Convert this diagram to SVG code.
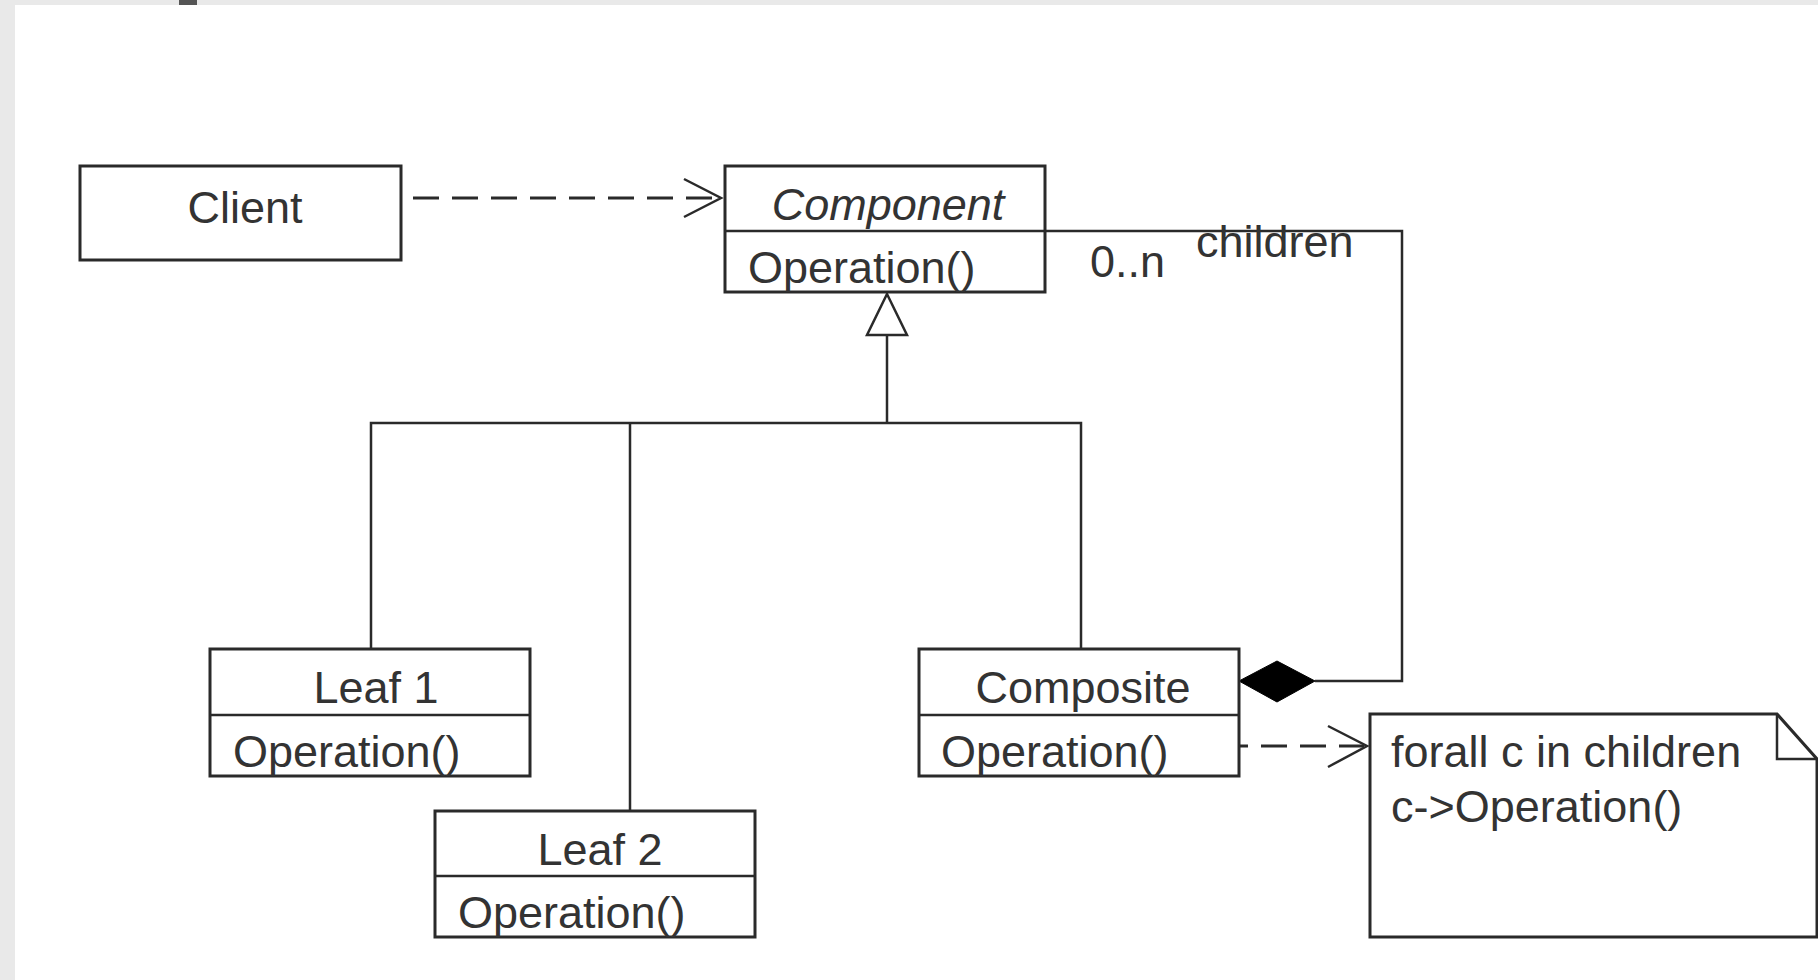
<svg xmlns="http://www.w3.org/2000/svg" width="1818" height="980" viewBox="0 0 1818 980">
<style>
.box{fill:#fff;stroke:#2a2a2a;stroke-width:3}
.ln{fill:none;stroke:#2a2a2a;stroke-width:2.5}
.dash{fill:none;stroke:#2a2a2a;stroke-width:3;stroke-dasharray:26 13}
.t{font-family:"Liberation Sans",Arial,sans-serif;font-size:45px;fill:#333}
.c{text-anchor:middle}
</style>
<rect x="0" y="0" width="1818" height="980" fill="#e9e9e9"/>
<rect x="15" y="5" width="1803" height="975" fill="#fff"/>
<rect x="179" y="0" width="18" height="5" fill="#555"/>

<g id="connectors">
  <line class="dash" x1="413" y1="198" x2="718" y2="198"/>
  <polyline class="ln" points="684,179 721,198 684,217" stroke-width="3"/>
  <line class="ln" x1="887" y1="335" x2="887" y2="423"/>
  <polygon points="887,294 867,335 907,335" fill="#fff" stroke="#2a2a2a" stroke-width="2.5"/>
  <polyline class="ln" points="371,649 371,423 1081,423 1081,649"/>
  <line class="ln" x1="630" y1="423" x2="630" y2="811"/>
  <polyline class="ln" points="1045,231 1402,231 1402,681 1315,681"/>
  <polygon points="1239,681 1277,661 1315,681 1277,702" fill="#000" stroke="#000" stroke-width="1"/>
  <line class="dash" x1="1222" y1="746" x2="1364" y2="746"/>
  <polyline class="ln" points="1328,726 1367,746 1328,767" stroke-width="3"/>
  <text class="t" x="1090" y="277">0..n</text>
  <text class="t" x="1196" y="257">children</text>
</g>

<g id="client">
  <rect class="box" x="80" y="166" width="321" height="94"/>
  <text class="t c" x="245" y="223">Client</text>
</g>

<g id="component">
  <rect class="box" x="725" y="166" width="320" height="126"/>
  <line class="ln" x1="725" y1="231" x2="1045" y2="231" stroke-width="3"/>
  <text class="t c" x="888" y="220" font-style="italic">Component</text>
  <text class="t" x="748" y="283">Operation()</text>
</g>

<g id="leaf1">
  <rect class="box" x="210" y="649" width="320" height="127"/>
  <line class="ln" x1="210" y1="715" x2="530" y2="715" stroke-width="3"/>
  <text class="t c" x="376" y="703">Leaf 1</text>
  <text class="t" x="233" y="767">Operation()</text>
</g>

<g id="leaf2">
  <rect class="box" x="435" y="811" width="320" height="126"/>
  <line class="ln" x1="435" y1="876" x2="755" y2="876" stroke-width="3"/>
  <text class="t c" x="600" y="865">Leaf 2</text>
  <text class="t" x="458" y="928">Operation()</text>
</g>

<g id="composite">
  <rect class="box" x="919" y="649" width="320" height="127"/>
  <line class="ln" x1="919" y1="715" x2="1239" y2="715" stroke-width="3"/>
  <text class="t c" x="1083" y="703">Composite</text>
  <text class="t" x="941" y="767">Operation()</text>
</g>

<g id="note">
  <path d="M1370,714 H1777 L1817,759 V937 H1370 Z" fill="#fff" stroke="#2a2a2a" stroke-width="3"/>
  <polyline class="ln" points="1777,714 1777,759 1817,759" stroke-width="3"/>
  <text class="t" x="1391" y="767">forall c in children</text>
  <text class="t" x="1391" y="822">c-&gt;Operation()</text>
</g>
</svg>
